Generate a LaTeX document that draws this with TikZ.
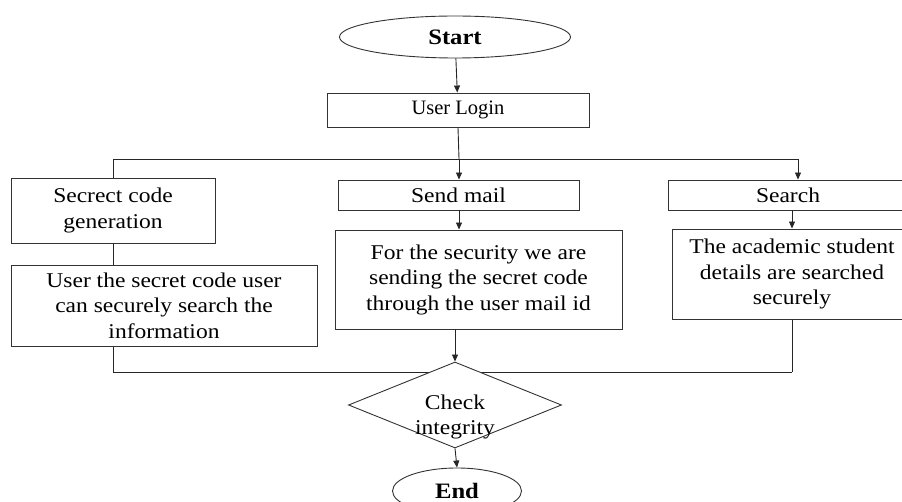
\documentclass[tikz,border=0pt]{standalone}
\usepackage{fontspec}
\setmainfont{Liberation Serif}[FakeStretch=1.12]
\newfontfamily\loginfont{Liberation Serif}
\usetikzlibrary{shapes.geometric,arrows.meta,backgrounds}
\begin{document}
\begin{tikzpicture}[x=1pt,y=-1pt,
  box/.style={draw=black!80, line width=0.9pt, rectangle, inner sep=0pt, align=center, font=\fontsize{21}{25.5}\selectfont, fill=white},
  term/.style={draw=black!80, line width=0.9pt, ellipse, inner sep=0pt, font=\fontsize{22}{26}\selectfont\bfseries, fill=white},
  dec/.style={draw=black!80, line width=0.9pt, diamond, aspect=2.48, inner sep=0pt, align=center, font=\fontsize{21}{25.5}\selectfont, fill=white},
  arr/.style={draw=black!85, line width=0.9pt, -{Triangle[length=7pt,width=6pt]}},
  ln/.style={draw=black!85, line width=0.9pt}]
\useasboundingbox (0,0) rectangle (902,502);
\node[term, minimum width=231pt, minimum height=42pt] (start) at (455,37) {Start};
\node[box, minimum width=262pt, minimum height=34pt, font=\loginfont\fontsize{20.5}{24}\selectfont] (login) at (458,110) {User Login};
\node[box, minimum width=204pt, minimum height=65pt] (secgen) at (113,210.5) {Secrect code\\generation};
\node[box, minimum width=306pt, minimum height=81pt] (useco) at (164,305.5) {User the secret code user\\can securely search the\\information};
\node[box, minimum width=241pt, minimum height=30pt] (send) at (458.5,195) {Send mail};
\node[box, minimum width=287pt, minimum height=99pt] (forsec) at (478.5,279.5) {For the security we are\\sending the secret code\\through the user mail id};
\node[box, minimum width=240pt, minimum height=30pt] (search) at (788,195) {Search};
\node[box, minimum width=240pt, minimum height=90pt] (acad) at (792,274) {The academic student\\details are searched\\securely};
\node[dec, minimum width=213pt, minimum height=86pt] (dia) at (455,405) {\raisebox{-17pt}[0pt][0pt]{\begin{tabular}{@{}c@{}}Check\\integrity\end{tabular}}};
\node[term, minimum width=129pt, minimum height=46pt] (end) at (457,491) {End};
\coordinate (jm) at (459,159);
\coordinate (jl) at (113,159);
\coordinate (jr) at (798,159);
\coordinate (jb) at (0,372);
\draw[arr] (start) -- (login);
\draw[ln] (login.south) -- (jm);
\draw[ln] (jl) -- (jr);
\draw[ln] (jl) -- (secgen.north -| jl);
\draw[arr] (jm) -- (send.north -| jm);
\draw[arr] (jr) -- (search.north -| jr);
\draw[ln] (secgen.south -| jl) -- (useco.north -| jl);
\draw[arr] (send.south -| jm) -- (forsec.north -| jm);
\draw[arr] (search.south -| acad.north) -- (acad.north);
\draw[arr] (forsec.south -| dia.north) -- (dia.north);
\begin{scope}[on background layer]
\draw[ln] (useco.south -| jl) |- (acad.south |- jb);
\draw[ln] (acad.south) -- (acad.south |- jb);
\end{scope}
\draw[arr] (dia.south) -- (end.north);
\end{tikzpicture}
\end{document}
